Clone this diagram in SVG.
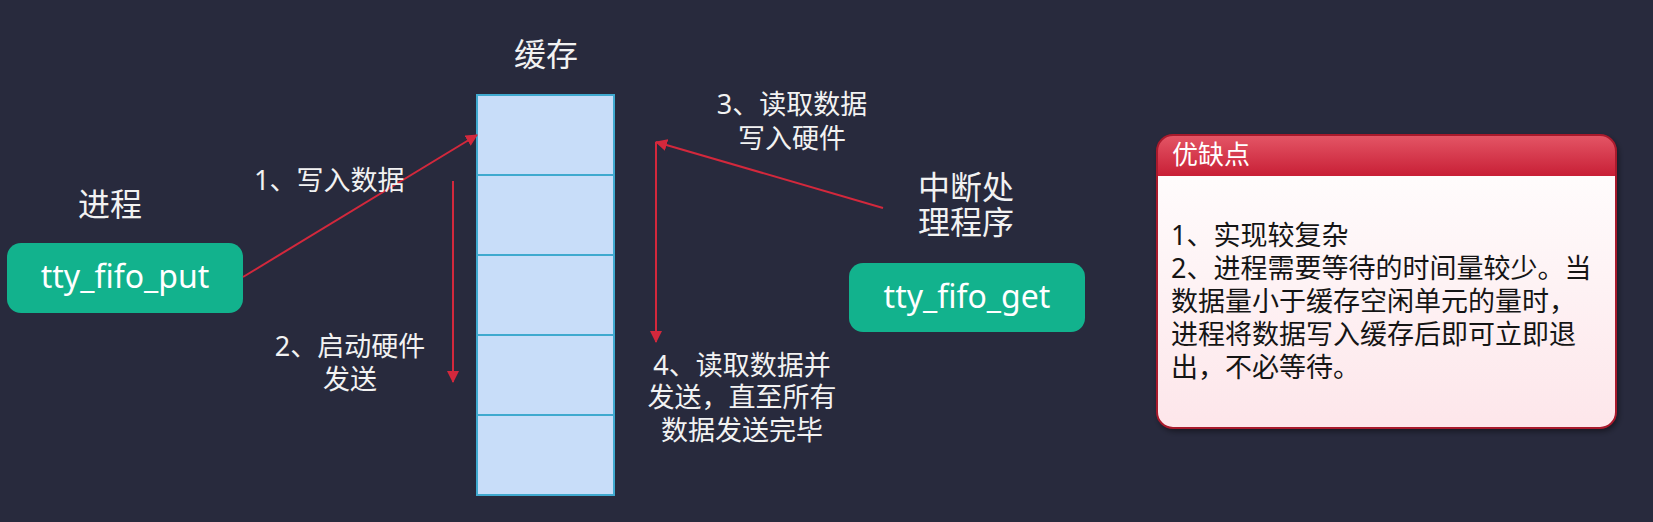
<svg xmlns="http://www.w3.org/2000/svg" width="1653" height="522" viewBox="0 0 1653 522">
  <style>
    .lbl { font-family: "Noto Sans", "Noto Sans CJK SC", sans-serif; fill: #f2f2f2; }
    .title { font-size: 32px; }
    .step { font-size: 27px; }
    .fn { font-family: "Noto Sans", "Open Sans", sans-serif; font-size: 32px; fill: #ffffff; }
    .node { fill: #12b28d; }
    .cell { fill: #c8ddf9; stroke: #3fa9cf; stroke-width: 2; }
    .conn { stroke: #d3283c; stroke-width: 2; fill: none; }
    .body { font-family: "Noto Sans", "Noto Sans CJK SC", sans-serif; font-size: 27px; fill: #151515; }
  </style>
  <defs>
    <marker id="ah" viewBox="0 0 12 12" refX="11" refY="6" markerWidth="12" markerHeight="12" markerUnits="userSpaceOnUse" orient="auto">
      <path d="M0,0 L12,6 L0,12 z" fill="#d3283c"/>
    </marker>
    <linearGradient id="hdr" x1="0" y1="0" x2="0" y2="1">
      <stop offset="0" stop-color="#e45666"/>
      <stop offset="1" stop-color="#c81f36"/>
    </linearGradient>
    <linearGradient id="bdy" x1="0" y1="0" x2="0" y2="1">
      <stop offset="0" stop-color="#ffffff"/>
      <stop offset="1" stop-color="#fde6ea"/>
    </linearGradient>
    <clipPath id="pclip">
      <rect x="1157" y="135" width="459" height="293" rx="16" ry="16"/>
    </clipPath>
    <filter id="sh" x="-10%" y="-10%" width="120%" height="130%">
      <feDropShadow dx="2" dy="3" stdDeviation="3" flood-color="#000000" flood-opacity="0.5"/>
    </filter>
  </defs>

  <rect x="0" y="0" width="1653" height="522" fill="#282a3d"/>

  <g id="buffer">
    <text class="lbl title" x="546" y="66" text-anchor="middle">缓存</text>
    <rect class="cell" x="477" y="95" width="137" height="80"/>
    <rect class="cell" x="477" y="175" width="137" height="80"/>
    <rect class="cell" x="477" y="255" width="137" height="80"/>
    <rect class="cell" x="477" y="335" width="137" height="80"/>
    <rect class="cell" x="477" y="415" width="137" height="80"/>
  </g>

  <g id="process">
    <text class="lbl title" x="110" y="216" text-anchor="middle">进程</text>
    <rect class="node" x="7" y="243" width="236" height="70" rx="14" ry="14"/>
    <text class="fn" x="125" y="288" text-anchor="middle">tty_fifo_put</text>
  </g>

  <g id="isr">
    <text class="lbl title" x="966" y="199" text-anchor="middle">中断处</text>
    <text class="lbl title" x="966" y="234" text-anchor="middle">理程序</text>
    <rect class="node" x="849" y="263" width="236" height="69" rx="14" ry="14"/>
    <text class="fn" x="967" y="308" text-anchor="middle">tty_fifo_get</text>
  </g>

  <g id="connectors">
    <line class="conn" x1="243" y1="277" x2="477" y2="135" marker-end="url(#ah)"/>
    <line class="conn" x1="453" y1="181" x2="453" y2="382" marker-end="url(#ah)"/>
    <line class="conn" x1="883" y1="208" x2="656" y2="142" marker-end="url(#ah)"/>
    <line class="conn" x1="656" y1="142" x2="656" y2="342" marker-end="url(#ah)"/>
  </g>

  <g id="labels">
    <text class="lbl step" x="254" y="190">1、写入数据</text>
    <text class="lbl step" x="350" y="356" text-anchor="middle">2、启动硬件</text>
    <text class="lbl step" x="350" y="389" text-anchor="middle">发送</text>
    <text class="lbl step" x="792" y="114" text-anchor="middle">3、读取数据</text>
    <text class="lbl step" x="792" y="148" text-anchor="middle">写入硬件</text>
    <text class="lbl step" x="742" y="375" text-anchor="middle">4、读取数据并</text>
    <text class="lbl step" x="742" y="407" text-anchor="middle">发送，直至所有</text>
    <text class="lbl step" x="742" y="440" text-anchor="middle">数据发送完毕</text>
  </g>

  <g id="pros-cons">
    <g filter="url(#sh)">
      <rect x="1157" y="135" width="459" height="293" rx="16" ry="16" fill="url(#bdy)"/>
    </g>
    <rect x="1157" y="135" width="459" height="41" fill="url(#hdr)" clip-path="url(#pclip)"/>
    <rect x="1157" y="135" width="459" height="293" rx="16" ry="16" fill="none" stroke="#a81a2c" stroke-width="2"/>
    <text x="1172" y="164" font-family="Noto Sans, Noto Sans CJK SC, sans-serif" font-size="26" fill="#ffffff">优缺点</text>
    <text class="body" x="1171" y="245">1、实现较复杂</text>
    <text class="body" x="1171" y="278">2、进程需要等待的时间量较少。当</text>
    <text class="body" x="1171" y="311">数据量小于缓存空闲单元的量时，</text>
    <text class="body" x="1171" y="344">进程将数据写入缓存后即可立即退</text>
    <text class="body" x="1171" y="377">出，不必等待。</text>
  </g>
</svg>
